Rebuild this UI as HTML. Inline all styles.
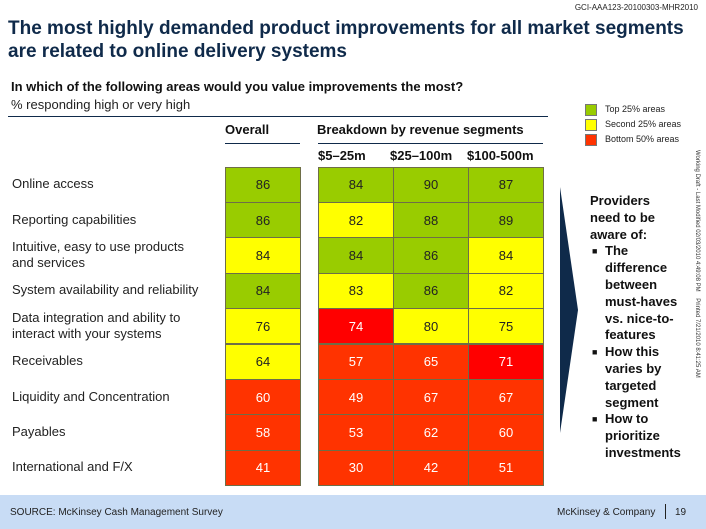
<!DOCTYPE html>
<html><head><meta charset="utf-8"><style>
body{margin:0;width:706px;height:529px;overflow:hidden;background:#fff;font-family:"Liberation Sans",sans-serif;position:relative}
.a{position:absolute;white-space:nowrap}
.cell{position:absolute;box-sizing:border-box;border:1px solid #6e6e48;font-size:13px;display:flex;align-items:center;justify-content:center}
.lbl{position:absolute;left:12px;font-size:13px;color:#222;line-height:16px}
</style></head><body>
<div class="a" style="right:8px;top:3px;font-size:8px;color:#222">GCI-AAA123-20100303-MHR2010</div>
<div class="a" style="left:8px;top:17px;font-size:19px;font-weight:bold;color:#0f2a4a;line-height:23px">The most highly demanded product improvements for all market segments<br>are related to online delivery systems</div>
<div class="a" style="left:11px;top:79px;font-size:13px;font-weight:bold;color:#111">In which of the following areas would you value improvements the most?</div>
<div class="a" style="left:11px;top:97px;font-size:13px;color:#222">% responding high or very high</div>
<div class="a" style="left:8px;top:116px;width:540px;height:1px;background:#0f2a4a"></div>
<div class="a" style="left:225px;top:122px;font-size:13px;font-weight:bold;color:#111">Overall</div>
<div class="a" style="left:225px;top:143px;width:75px;height:1px;background:#0f2a4a"></div>
<div class="a" style="left:317px;top:122px;font-size:13px;font-weight:bold;color:#111">Breakdown by revenue segments</div>
<div class="a" style="left:318px;top:143px;width:225px;height:1px;background:#0f2a4a"></div>
<div class="a" style="left:318px;top:148px;font-size:13px;font-weight:bold;color:#111">$5–25m</div>
<div class="a" style="left:390px;top:148px;font-size:13px;font-weight:bold;color:#111">$25–100m</div>
<div class="a" style="left:467px;top:148px;font-size:13px;font-weight:bold;color:#111">$100-500m</div>

<div>
<div class="a" style="left:585px;top:104px;width:10px;height:10px;background:#99cc00;border:1px solid #777"></div>
<div class="a" style="left:605px;top:104px;font-size:9px;color:#222">Top 25% areas</div>
<div class="a" style="left:585px;top:119px;width:10px;height:10px;background:#ffff00;border:1px solid #777"></div>
<div class="a" style="left:605px;top:119px;font-size:9px;color:#222">Second 25% areas</div>
<div class="a" style="left:585px;top:134px;width:10px;height:10px;background:#ff3300;border:1px solid #777"></div>
<div class="a" style="left:605px;top:134px;font-size:9px;color:#222">Bottom 50% areas</div>
</div>

<div id="grid"></div>

<svg class="a" style="left:558px;top:185px" width="24" height="250"><polygon points="2,2 20,125 2,248" fill="#0f2a4a"/></svg>
<div class="a" style="left:590px;top:193px;font-size:13px;font-weight:bold;color:#111;line-height:16.8px;white-space:normal;width:110px">
Providers<br>need to be<br>aware of:
<div style="position:relative;padding-left:15px"><span style="position:absolute;left:2px;font-size:9px">■</span>The<br>difference<br>between<br>must-haves<br>vs. nice-to-<br>features</div>
<div style="position:relative;padding-left:15px"><span style="position:absolute;left:2px;font-size:9px">■</span>How this<br>varies by<br>targeted<br>segment</div>
<div style="position:relative;padding-left:15px"><span style="position:absolute;left:2px;font-size:9px">■</span>How to<br>prioritize<br>investments</div>
</div>
<div class="a" style="left:700px;top:150px;font-size:6px;color:#333;transform-origin:0 0;transform:rotate(90deg)">Working Draft - Last Modified 02/03/2010 4:49:08 PM &nbsp;&nbsp; Printed 7/21/2010 8:41:25 AM</div>

<div class="a" style="left:0;top:495px;width:706px;height:34px;background:#c8dcf5"></div>
<div class="a" style="left:10px;top:507px;font-size:10px;color:#222">SOURCE: McKinsey Cash Management Survey</div>
<div class="a" style="left:557px;top:507px;font-size:10px;color:#222">McKinsey &amp; Company</div>
<div class="a" style="left:665px;top:504px;width:1px;height:15px;background:#222"></div>
<div class="a" style="left:675px;top:507px;font-size:10px;color:#222">19</div>

<script>
const categories=["Online access","Reporting capabilities","Intuitive, easy to use products\nand services","System availability and reliability","Data integration and ability to\ninteract with your systems","Receivables","Liquidity and Concentration","Payables","International and F/X"];
const overall=[86,86,84,84,76,64,60,58,41];
const seg1=[84,82,84,83,74,57,49,53,30];
const seg2=[90,88,86,86,80,65,67,62,42];
const seg3=[87,89,84,82,75,71,67,60,51];
const overallTier=["g","g","y","g","y","y","o","o","o"];
const seg1Tier=["g","y","g","y","r","o","o","o","o"];
const seg2Tier=["g","g","g","g","y","o","o","o","o"];
const seg3Tier=["g","g","y","y","y","r","o","o","o"];
const colors={g:"#99cc00",y:"#ffff00",o:"#ff3300",r:"#ff0000"};
const top0=166.5,rowH=35.4;
const colX=[225,318,393,468],colW=[75,75,75,75];
function rowY(i){return top0+i*rowH;}
const g=document.getElementById('grid');
const series=[[overall,overallTier],[seg1,seg1Tier],[seg2,seg2Tier],[seg3,seg3Tier]];
categories.forEach((c,i)=>{
  const l=document.createElement('div');
  l.className='lbl';
  
  
  const lines=c.split('\n');
  l.innerHTML=lines.join('<br>');
  l.style.top=(rowY(i)+rowH/2-lines.length*8)+'px';
  g.appendChild(l);
  series.forEach((s,j)=>{
    const d=document.createElement('div');
    d.className='cell';
    
    
    const t=s[1][i];
    d.style.left=colX[j]+'px';d.style.top=rowY(i)+'px';
    d.style.width=(colW[j]+1)+'px';d.style.height=(rowH+1)+'px';
    d.style.background=colors[t];
    d.style.color=(t==='o'||t==='r')?'#fff':'#222';
    d.textContent=s[0][i];
    g.appendChild(d);
  });
});
</script>
</body></html>
